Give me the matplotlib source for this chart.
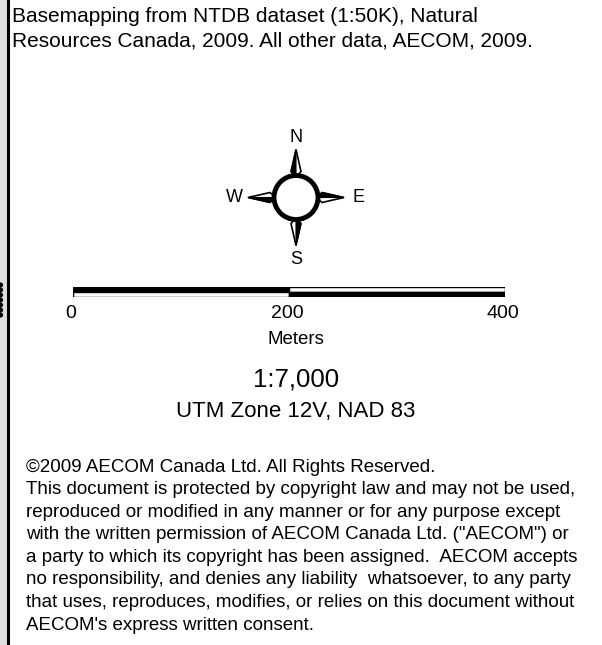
import matplotlib
matplotlib.use("Agg")
import matplotlib.pyplot as plt
from matplotlib.patches import Polygon, Circle, Rectangle
import numpy as np

plt.rcParams['font.family'] = ['Liberation Sans', 'DejaVu Sans']

W, H = 602, 645
source_lines = ["Basemapping from NTDB dataset (1:50K), Natural",
                "Resources Canada, 2009. All other data, AECOM, 2009."]
compass_labels = ["N", "E", "S", "W"]
compass_angles = [90, 0, 270, 180]
scale_ticks = [0, 200, 400]
scale_unit = "Meters"
scale_ratio = "1:7,000"
projection = "UTM Zone 12V, NAD 83"
copyright_lines = [
    "\u00a92009 AECOM Canada Ltd. All Rights Reserved.",
    "This document is protected by copyright law and may not be used,",
    "reproduced or modified in any manner or for any purpose except",
    "with the written permission of AECOM Canada Ltd. (\"AECOM\") or",
    "a party to which its copyright has been assigned.  AECOM accepts",
    "no responsibility, and denies any liability  whatsoever, to any party",
    "that uses, reproduces, modifies, or relies on this document without",
    "AECOM's express written consent.",
]

fig = plt.figure(figsize=(W / 100, H / 100), dpi=100)
ax = fig.add_axes([0, 0, 1, 1])
ax.set_xlim(0, W)
ax.set_ylim(H, 0)
ax.axis('off')

# left gray strip and border line
ax.add_patch(Rectangle((0, 0), 6.5, H, facecolor='#dedede', edgecolor='none'))
ax.plot([7.5, 7.5], [0, H], color='black', lw=2.2)
for yy in range(285, 316, 5):
    ax.add_patch(Circle((0.5, yy), 2.6, facecolor='black', edgecolor='none'))

# source text
for i, s in enumerate(source_lines):
    ax.text(12, 22 + i * 24.5, s, fontsize=15, ha='left', va='baseline')

# compass
cx, cy, r = 296, 197.5, 22
for lab, ang in zip(compass_labels, compass_angles):
    a = np.deg2rad(ang)
    d = np.array([np.cos(a), -np.sin(a)])
    p = np.array([-d[1], d[0]])
    base = np.array([cx, cy]) + d * (r - 2)
    tip = np.array([cx, cy]) + d * 48
    mid = np.array([cx, cy]) + d * (r + 4)
    left = mid + p * 5
    right = mid - p * 5
    ax.add_patch(Polygon([base, left, tip, right], closed=True, facecolor='white',
                         edgecolor='black', lw=1.2, zorder=3))
    ax.add_patch(Polygon([base, right, tip], closed=True, facecolor='black',
                         edgecolor='black', lw=0.8, zorder=4))
    lp = np.array([cx, cy]) + d * 62
    ax.text(lp[0], lp[1] + (1.5 if ang == 90 else 0), lab, fontsize=13,
            ha='center', va='center', zorder=5)
ax.add_patch(Circle((cx, cy), r, facecolor='white', edgecolor='black', lw=3.5, zorder=6))

# scale bar (meters)
x0, x1 = 73, 505
sax = fig.add_axes([x0 / W, 1 - 297 / H, (x1 - x0) / W, 10 / H])
sax.set_xlim(scale_ticks[0], scale_ticks[-1])
sax.set_ylim(0, 2)
sax.axis('off')
for i in range(len(scale_ticks) - 1):
    a, b = scale_ticks[i], scale_ticks[i + 1]
    top_black = (i % 2 == 0)
    sax.add_patch(Rectangle((a, 1), b - a, 1, facecolor='black' if top_black else 'white',
                            edgecolor='black', lw=1.0))
    sax.add_patch(Rectangle((a, 0), b - a, 1, facecolor='white' if top_black else 'black',
                            edgecolor='black', lw=1.0))
for t in scale_ticks:
    xp = x0 + (t - scale_ticks[0]) / (scale_ticks[-1] - scale_ticks[0]) * (x1 - x0)
    ax.text(xp - 2, 313, str(t), fontsize=14, ha='center', va='center')

ax.text(296, 340, scale_unit, fontsize=13.5, ha='center', va='center')
ax.text(296, 380, scale_ratio, fontsize=18.5, ha='center', va='center')
ax.text(296, 411, projection, fontsize=16, ha='center', va='center')

for i, s in enumerate(copyright_lines):
    ax.text(26, 467 + i * 22.6, s, fontsize=13.5, ha='left', va='center')

fig.savefig('out.png', dpi=100)
